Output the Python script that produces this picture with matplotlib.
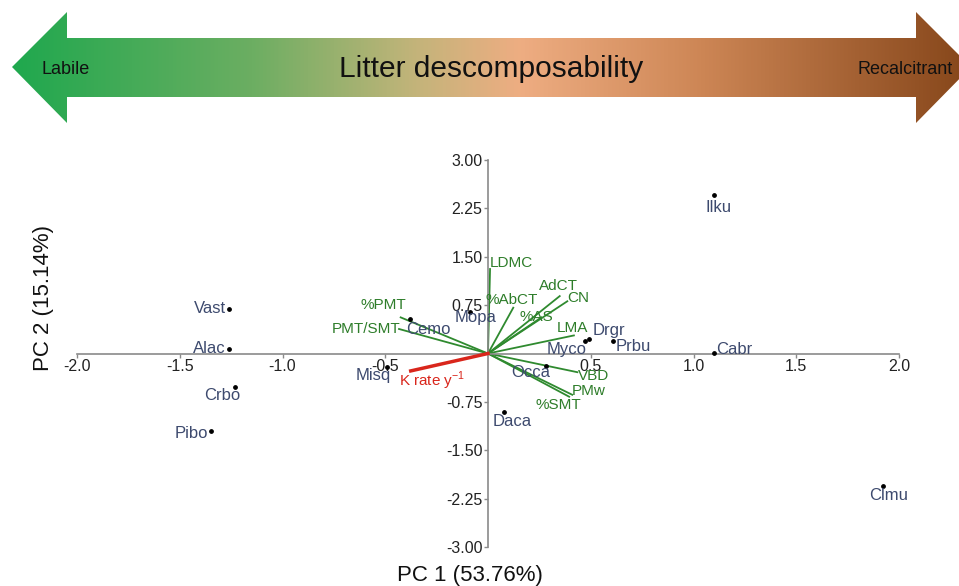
import numpy as np
import matplotlib
matplotlib.use("Agg")
import matplotlib.pyplot as plt
from matplotlib.colors import LinearSegmentedColormap
from matplotlib.patches import Polygon

plt.rcParams['font.family'] = ['Liberation Sans', 'DejaVu Sans']
plt.rcParams['mathtext.fontset'] = 'custom'
plt.rcParams['mathtext.rm'] = 'Liberation Sans'

# species scores (PC1, PC2)
species = ['Vast', 'Alac', 'Crbo', 'Pibo', 'Cemo', 'Mopa', 'Misq', 'Myco',
           'Drgr', 'Prbu', 'Occa', 'Daca', 'Ilku', 'Cabr', 'Clmu']
pc1 = [-1.26, -1.26, -1.23, -1.35, -0.38, -0.09, -0.49, 0.47,
       0.49, 0.61, 0.28, 0.08, 1.10, 1.10, 1.92]
pc2 = [0.69, 0.07, -0.52, -1.20, 0.53, 0.64, -0.21, 0.19,
       0.23, 0.19, -0.20, -0.91, 2.45, 0.01, -2.06]

# trait loadings
traits = ['LDMC', '%AbCT', 'AdCT', 'CN', '%AS', 'LMA', '%PMT', 'PMT/SMT',
          'VBD', 'PMw', '%SMT']
load1 = [0.01, 0.123, 0.349, 0.386, 0.26, 0.418, -0.425, -0.433,
         0.435, 0.41, 0.395]
load2 = [1.31, 0.71, 0.89, 0.81, 0.56, 0.28, 0.56, 0.38,
         -0.29, -0.64, -0.67]

k_rate = (-0.376, -0.27)

x_ticks = [-2.0, -1.5, -1.0, -0.5, 0.5, 1.0, 1.5, 2.0]
y_ticks = [3.00, 2.25, 1.50, 0.75, -0.75, -1.50, -2.25, -3.00]

# label placement (pixels offset, alignment)
sp_offsets = [(-3, 0, 'right'), (-3, 0, 'right'), (-13, -8, 'center'),
              (-2, -3, 'right'), (-4, -10, 'left'), (6, -5, 'center'),
              (4, -8, 'right'), (2, -8, 'right'), (4, 8, 'left'),
              (2, -5, 'left'), (5, -6, 'right'), (8, -9, 'center'),
              (5, -12, 'center'), (2, 3, 'left'), (6, -9, 'center')]
tr_offsets = [(0, 6, 'left'), (-2, 8, 'center'), (-1, 10, 'center'),
              (0, 3, 'left'), (-5, 0, 'center'), (-1, 7, 'center'),
              (-17, 12, 'center'), (1, 0, 'right'), (1, -4, 'left'),
              (-1, 4, 'left'), (-11, -8, 'center')]

W, H = 959, 586
fig = plt.figure(figsize=(9.59, 5.86), dpi=100)

# header arrow with gradient
hax = fig.add_axes([0, 1 - 125 / H, 1, 125 / H])
hax.set_xlim(0, W)
hax.set_ylim(125, 0)
hax.axis('off')
grad = LinearSegmentedColormap.from_list('litter', [
    (0.0, '#1fa84e'), (0.25, '#6cae62'), (0.42, '#c3b47a'),
    (0.53, '#eead82'), (0.72, '#cd8655'), (1.0, '#86461a')])
img = hax.imshow(np.linspace(0, 1, 512)[None, :], cmap=grad, aspect='auto',
                 extent=[12, 971, 123, 12])
arrow = Polygon([(12, 67), (67, 12), (67, 38), (916, 38), (916, 12), (971, 67),
                 (916, 123), (916, 97), (67, 97), (67, 123)],
                closed=True, transform=hax.transData, facecolor='none',
                edgecolor='none')
hax.add_patch(arrow)
img.set_clip_path(arrow)
hax.text(66, 70, 'Labile', fontsize=13, ha='center', va='center', color='#111')
hax.text(491, 69, 'Litter descomposability', fontsize=21.5, ha='center',
         va='center', color='#111')
hax.text(905, 70, 'Recalcitrant', fontsize=13, ha='center', va='center',
         color='#111')

# biplot
ax = fig.add_axes([77 / W, 1 - 547 / H, 822 / W, 387 / H])
ax.set_facecolor('none')
ax.set_xlim(-2.0, 2.0)
ax.set_ylim(-3.0, 3.0)
for s in ['top', 'right']:
    ax.spines[s].set_visible(False)
for s in ['left', 'bottom']:
    ax.spines[s].set_position('zero')
    ax.spines[s].set_color('#8a8a8a')
    ax.spines[s].set_linewidth(1.2)
ax.set_xticks(x_ticks)
ax.set_xticklabels([f'{v:.1f}' for v in x_ticks])
ax.set_yticks(y_ticks)
ax.set_yticklabels([f'{v:.2f}' for v in y_ticks])
ax.tick_params(axis='both', length=3, width=1, color='#8a8a8a',
               labelsize=11.5, labelcolor='#222', pad=1)

green = '#2f8a2f'
for x1, y1 in zip(load1, load2):
    ax.plot([0, x1], [0, y1], color=green, lw=1.3, zorder=2)
ax.plot([0, k_rate[0]], [0, k_rate[1]], color='#d9261c', lw=2.5, zorder=3)

for name, x1, y1, (dx, dy, ha) in zip(traits, load1, load2, tr_offsets):
    ax.annotate(name, (x1, y1), xytext=(dx, dy), textcoords='offset pixels',
                ha=ha, va='center', fontsize=11, color='#2e7d2a', zorder=4)
ax.annotate('K rate y$^{\\mathregular{-1}}$', k_rate, xytext=(-12, -10),
            textcoords='offset pixels', ha='left', va='center', fontsize=11,
            color='#d9261c', zorder=4)

ax.scatter(pc1, pc2, s=6, color='black', zorder=5)
for name, x1, y1, (dx, dy, ha) in zip(species, pc1, pc2, sp_offsets):
    ax.annotate(name, (x1, y1), xytext=(dx, dy), textcoords='offset pixels',
                ha=ha, va='center', fontsize=12, color='#3d4a6e', zorder=5)

fig.text(470 / W, 1 - 576 / H, 'PC 1 (53.76%)', fontsize=16, ha='center',
         va='center', color='#111')
fig.text(44 / W, 1 - 298 / H, 'PC 2 (15.14%)', fontsize=16, ha='center',
         va='center', rotation=90, color='#111')

fig.savefig('out.png', dpi=100)
